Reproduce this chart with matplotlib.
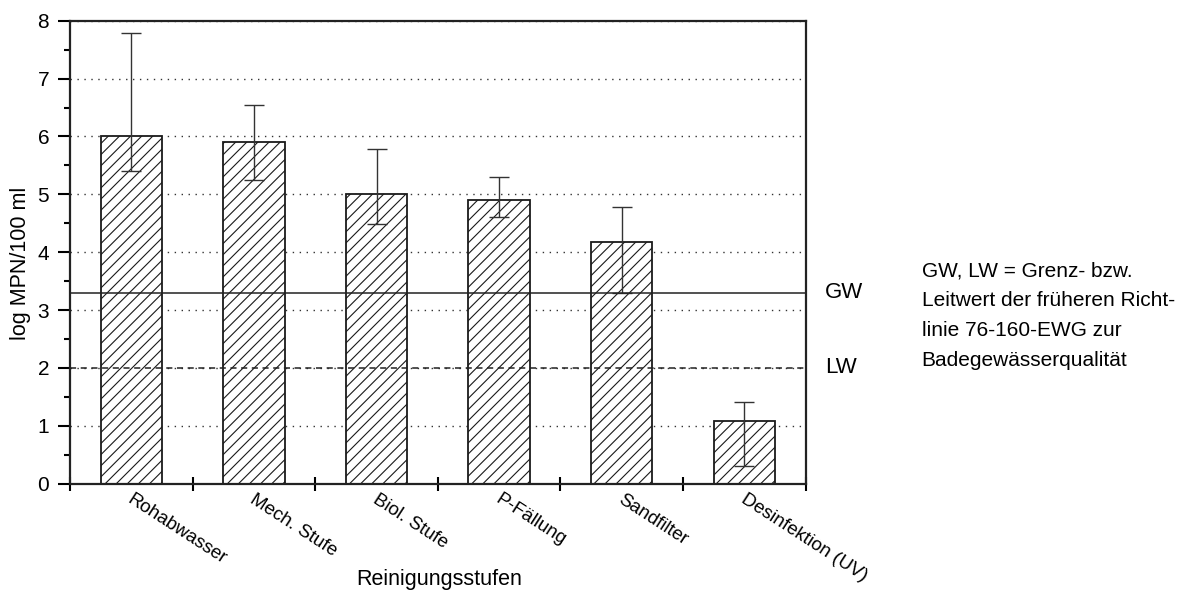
import numpy as np
import matplotlib
matplotlib.use('Agg')
import matplotlib.pyplot as plt

plt.rcParams['font.family'] = ['Liberation Sans', 'DejaVu Sans']
plt.rcParams['hatch.color'] = '#555555'
plt.rcParams['hatch.linewidth'] = 0.8

# log MPN/100 ml per treatment stage, with min/max range
stages = ['Rohabwasser', 'Mech. Stufe', 'Biol. Stufe', 'P-Fällung', 'Sandfilter', 'Desinfektion (UV)']
mean_log = [6.00, 5.90, 5.00, 4.90, 4.18, 1.08]
low_log = [5.40, 5.25, 4.48, 4.61, 3.30, 0.31]
high_log = [7.78, 6.54, 5.78, 5.30, 4.78, 1.41]

gw = 3.3   # Grenzwert
lw = 2.0   # Leitwert

fig = plt.figure(figsize=(11.83, 5.92), dpi=100, facecolor='w')
ax = fig.add_axes([0.0592, 0.183, 0.6218, 0.782])

x = np.arange(len(stages)) + 0.5
mean = np.array(mean_log)
yerr = [mean - np.array(low_log), np.array(high_log) - mean]

ax.bar(x, mean, width=0.5, color='white', edgecolor='#1a1a1a', linewidth=1.3,
       hatch='///', zorder=2)
ax.errorbar(x, mean, yerr=yerr, fmt='none', ecolor='#333333', elinewidth=1,
            capsize=7.5, capthick=1, zorder=3)

# limit lines
ax.axhline(gw, color='#222222', linewidth=1.1, zorder=4)
ax.axhline(lw, color='#222222', linewidth=1.1, linestyle=(0, (4, 3)), zorder=4)

ax.set_xlim(0, 6)
ax.set_ylim(0, 8)
ax.set_yticks(range(0, 9))
ax.set_yticks(np.arange(0.5, 8, 1), minor=True)
ax.set_xticks(range(0, 7))
ax.set_xticklabels([])
ax.yaxis.grid(True, which='major', linestyle=(0, (1, 4)), color='#333333', linewidth=1, zorder=1)
ax.set_axisbelow(True)

ax.tick_params(axis='y', which='major', direction='out', length=9, width=1.5, labelsize=15, pad=6)
ax.tick_params(axis='y', which='minor', direction='out', length=4, width=1.5)
ax.tick_params(axis='x', which='major', direction='inout', length=10, width=1.5)

for s in ax.spines.values():
    s.set_linewidth(1.6)
    s.set_color('#222222')

# rotated category labels
for xi, name in zip(x, stages):
    ax.text(xi + 0.02, -0.12, name, rotation=-33, rotation_mode='anchor',
            ha='left', va='top', fontsize=13.5, transform=ax.transData)

fig.text(21 / 1183, (592 - 263) / 592, 'log MPN/100 ml', fontsize=15.5,
         rotation=90, ha='center', va='center')
fig.text(0.371, (592 - 579) / 592, 'Reinigungsstufen', fontsize=15.5, ha='center', va='center')

ax.text(6.16, gw, 'GW', fontsize=16, va='center', ha='left', clip_on=False)
ax.text(6.16, lw, 'LW', fontsize=16, va='center', ha='left', clip_on=False)

note = ['GW, LW = Grenz- bzw.',
        'Leitwert der früheren Richt-',
        'linie 76-160-EWG zur',
        'Badegewässerqualität']
for i, line in enumerate(note):
    fig.text(0.779, (592 - 271 - 30 * i) / 592, line, fontsize=15, va='center', ha='left')

plt.savefig('out.png', dpi=100)
